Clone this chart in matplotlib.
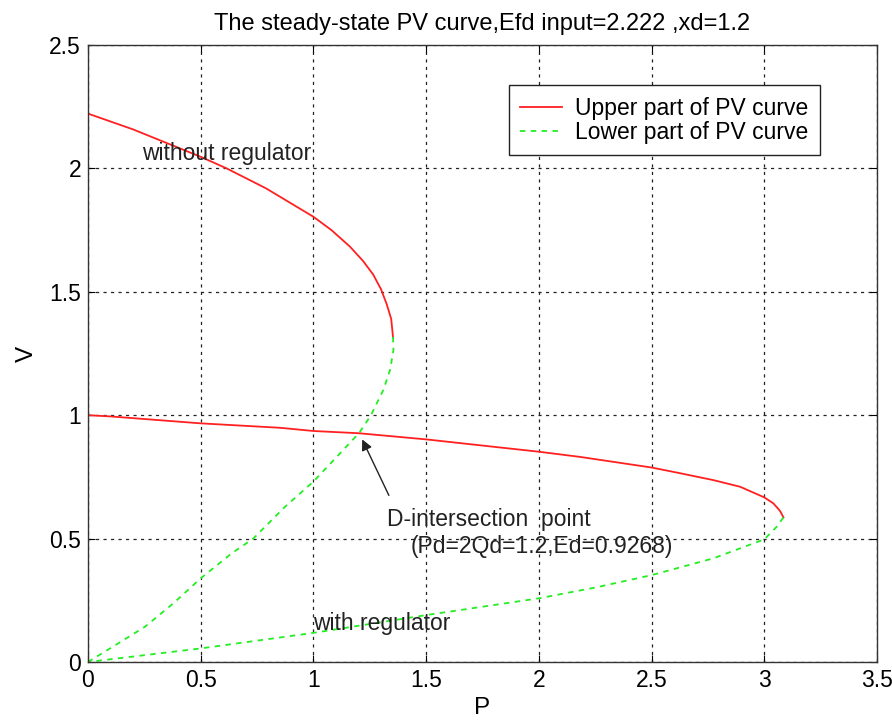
import matplotlib
matplotlib.use("Agg")
import matplotlib.pyplot as plt

plt.rcParams['font.family'] = ['Liberation Sans', 'DejaVu Sans']

# values
# without regulator (Efd = 2.222)
p_up_noreg = [0.0, 0.2, 0.5, 0.615, 0.79, 1.0, 1.08, 1.162, 1.22, 1.265, 1.30, 1.325, 1.345, 1.353]
v_up_noreg = [2.222, 2.158, 2.047, 2.0, 1.919, 1.804, 1.75, 1.683, 1.625, 1.57, 1.51, 1.45, 1.39, 1.317]
p_lo_noreg = [1.353, 1.355, 1.34, 1.31, 1.254, 1.202, 1.0, 0.874, 0.733, 0.637, 0.5, 0.379, 0.253, 0.135, 0.0]
v_lo_noreg = [1.317, 1.264, 1.183, 1.102, 0.998, 0.927, 0.731, 0.629, 0.5, 0.44, 0.339, 0.238, 0.143, 0.076, 0.0]

# with regulator
p_up_reg = [0.0, 0.1, 0.5, 0.852, 1.0, 1.2, 1.5, 2.0, 2.183, 2.5, 2.626, 2.774, 2.893, 3.0, 3.04, 3.07, 3.085]
v_up_reg = [1.0, 0.995, 0.967, 0.949, 0.936, 0.927, 0.902, 0.852, 0.831, 0.788, 0.765, 0.737, 0.71, 0.667, 0.643, 0.612, 0.586]
p_lo_reg = [3.085, 3.055, 3.0, 2.774, 2.5, 2.257, 2.0, 1.5, 1.0, 0.5, 0.135, 0.0]
v_lo_reg = [0.586, 0.548, 0.497, 0.42, 0.352, 0.303, 0.258, 0.19, 0.118, 0.055, 0.015, 0.0]

x_ticks = [0, 0.5, 1, 1.5, 2, 2.5, 3, 3.5]
y_ticks = [0, 0.5, 1, 1.5, 2, 2.5]

fig = plt.figure(figsize=(8.92, 7.25), dpi=100)
ax = fig.add_axes([88 / 892, 1 - 662 / 725, 789 / 892, 617 / 725])

red = '#ff2020'
green = '#22ee22'
fs = 16.5

ax.plot(p_up_noreg, v_up_noreg, color=red, lw=1.3, label='Upper part of PV curve')
ax.plot(p_lo_noreg, v_lo_noreg, color=green, lw=1.3, linestyle=(0, (3, 3)),
        label='Lower part of PV curve')
ax.plot(p_up_reg, v_up_reg, color=red, lw=1.3)
ax.plot(p_lo_reg, v_lo_reg, color=green, lw=1.3, linestyle=(0, (3, 3)))

ax.set_xlim(0, 3.5)
ax.set_ylim(0, 2.5)
ax.set_xticks(x_ticks)
ax.set_yticks(y_ticks)
ax.set_xticklabels([f'{t:g}' for t in x_ticks])
ax.set_yticklabels([f'{t:g}' for t in y_ticks])
ax.tick_params(direction='in', top=True, right=True, length=5, labelsize=fs, pad=5)
ax.grid(True, color='#222222', linestyle=(0, (2.5, 3.5)), linewidth=0.9)
for s in ax.spines.values():
    s.set_linewidth(1.0)
    s.set_color('#333333')

ax.set_xlabel('P', fontsize=fs + 1, labelpad=4)
ax.set_ylabel('V', fontsize=fs + 1, labelpad=8)
ax.set_title('The steady-state PV curve,Efd input=2.222 ,xd=1.2', fontsize=fs + 0.5, pad=11)

ax.text(0.24, 2.062, 'without regulator', fontsize=fs, va='center', ha='left', color='#222222')
ax.text(0.998, 0.158, 'with regulator', fontsize=fs, va='center', ha='left', color='#222222')
ax.text(1.327, 0.579, 'D-intersection  point', fontsize=fs, va='center', ha='left', color='#222222')
ax.text(1.43, 0.466, '(Pd=2Qd=1.2,Ed=0.9268)', fontsize=fs, va='center', ha='left', color='#222222')
ax.annotate('', xy=(1.211, 0.912), xytext=(1.34, 0.665),
            arrowprops=dict(arrowstyle='-|>', color='#222222', lw=1.0, mutation_scale=16))

leg = ax.legend(loc='upper right', bbox_to_anchor=(0.928, 0.935), borderaxespad=0,
                fontsize=fs, fancybox=False, framealpha=1, edgecolor='#222222',
                handlelength=1.8, handletextpad=0.6, borderpad=0.5, labelspacing=0.05)
leg.get_frame().set_linewidth(1.0)

fig.savefig('out.png', dpi=100)
